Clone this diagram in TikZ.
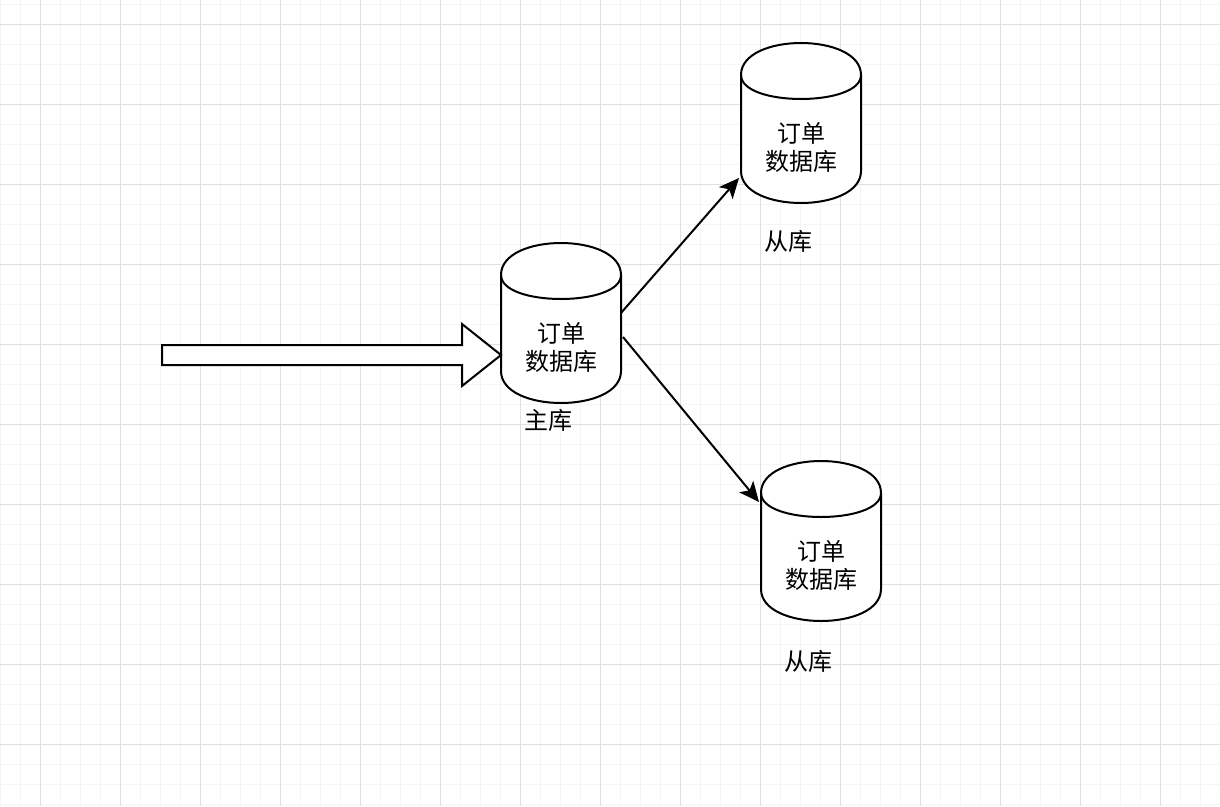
\documentclass[tikz,border=0pt]{standalone}
\usepackage{fontspec}
\setmainfont{Noto Sans CJK SC}
\usetikzlibrary{arrows.meta,calc}
\definecolor{gridmajor}{HTML}{E0E0E0}
\definecolor{gridminor}{HTML}{F5F5F5}
\tikzset{
  gridminorline/.style={gridminor,line width=1pt},
  gridmajorline/.style={gridmajor,line width=1pt},
  dbframe/.style={minimum width=120pt,minimum height=160pt,inner sep=0pt,outer sep=0pt},
  dboutline/.style={draw=black,fill=white,line width=2pt,line join=round},
  dbtext/.style={align=center,inner sep=0pt,font=\fontsize{24pt}{28pt}\selectfont},
  caption/.style={inner sep=0pt,font=\fontsize{24pt}{28pt}\selectfont},
  bigarrow/.style={draw=black,fill=white,line width=2pt,miter limit=10},
  flow/.style={draw=black,line width=2pt,-{Stealth[length=20pt,width=18pt,inset=5pt]}}
}
\newcommand{\dbcylinder}[3]{%
  \node[dbframe] (#1) at (#2,#3) {};
  \path[dboutline] ($(#1.west)+(0,-48)$)
    .. controls ($(#1.west)+(0,-90.67)$) and ($(#1.east)+(0,-90.67)$) .. ($(#1.east)+(0,-48)$)
    -- ($(#1.east)+(0,48)$)
    .. controls ($(#1.east)+(0,90.67)$) and ($(#1.west)+(0,90.67)$) .. ($(#1.west)+(0,48)$)
    -- cycle;
  \path[draw=black,line width=2pt] ($(#1.west)+(0,-48)$)
    .. controls ($(#1.west)+(0,-16)$) and ($(#1.east)+(0,-16)$) .. ($(#1.east)+(0,-48)$);
  \node[dbtext] (#1text) at ($(#1.center)+(0,24)$) {订单\\数据库};
}
\begin{document}
\begin{tikzpicture}[x=1pt,y=-1pt]
\useasboundingbox (0,0) rectangle (1220,806);
\fill[white] (0,0) rectangle (1220,806);
\foreach \gx in {0.5,20.5,...,1220.5} \draw[gridminorline] (\gx,0) -- (\gx,806);
\foreach \gy in {4.5,24.5,...,804.5} \draw[gridminorline] (0,\gy) -- (1220,\gy);
\foreach \gx in {40.5,120.5,...,1160.5} \draw[gridmajorline] (\gx,0) -- (\gx,806);
\foreach \gy in {24.5,104.5,...,744.5} \draw[gridmajorline] (0,\gy) -- (1220,\gy);

\dbcylinder{master}{561}{323}
\dbcylinder{upper}{801}{123}
\dbcylinder{lower}{821}{541}

\node[caption] (mastercap) at (548,420) {主库};
\node[caption] (uppercap) at (788,241) {从库};
\node[caption] (lowercap) at (808,661) {从库};

\coordinate (bigtail) at (162,355);
\path[bigarrow] (162,345) -- (462,345) -- (462,324) -- ($(master.west)+(0,32)$) -- (462,386) -- (462,365) -- (162,365) -- cycle;

\draw[flow] ($(master.east)+(0,-10)$) -- ($(upper.west)+(-2,55)$);
\draw[flow] ($(master.east)+(2,14)$) -- ($(lower.west)+(-2,-39)$);
\end{tikzpicture}
\end{document}
